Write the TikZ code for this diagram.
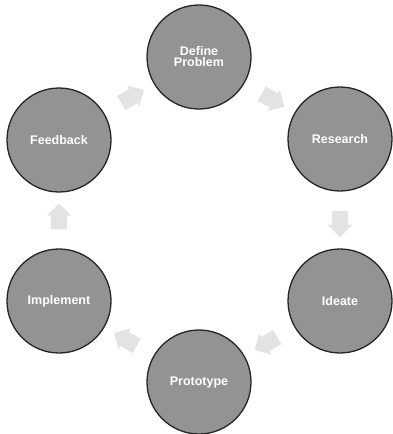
\documentclass[tikz,border=0pt]{standalone}
\usepackage{fontspec}
\setmainfont{Liberation Sans}
\usepackage{tikz}
\usetikzlibrary{shapes.arrows, calc}

\begin{document}
\begin{tikzpicture}[x=1pt, y=-1pt,
    phase/.style={circle, minimum size=104pt, inner sep=0pt, fill=gray!85,
        draw=black!85, line width=1.3pt, text=white, font=\bfseries\fontsize{12.5}{13}\selectfont,
        align=center},
    flowarrow/.style={single arrow, fill=gray!22, draw=none, inner sep=8pt,
        minimum height=26pt, single arrow head extend=4pt}]
    \useasboundingbox (0,0) rectangle (392,434);
    \node[phase] (define) at (199,57) {Define\\[-2pt]Problem};
    \node[phase] (research) at (340,139) {Research};
    \node[phase] (ideate) at (340,301) {Ideate};
    \node[phase] (prototype) at (199,382) {Prototype};
    \node[phase] (implement) at (59,301) {Implement};
    \node[phase] (feedback) at (59,140) {Feedback};
    \node[flowarrow, rotate=-30] (a1) at ($(define)!0.5!(research)$) {};
    \node[flowarrow, rotate=-90] (a2) at ($(research)!0.5!(ideate)$) {};
    \node[flowarrow, rotate=-150] (a3) at ($(ideate)!0.5!(prototype)$) {};
    \node[flowarrow, rotate=150] (a4) at ($(prototype)!0.5!(implement)$) {};
    \node[flowarrow, rotate=90] (a5) at ($(implement)!0.5!(feedback)$) {};
    \node[flowarrow, rotate=30] (a6) at ($(feedback)!0.5!(define)$) {};
\end{tikzpicture}
\end{document}
